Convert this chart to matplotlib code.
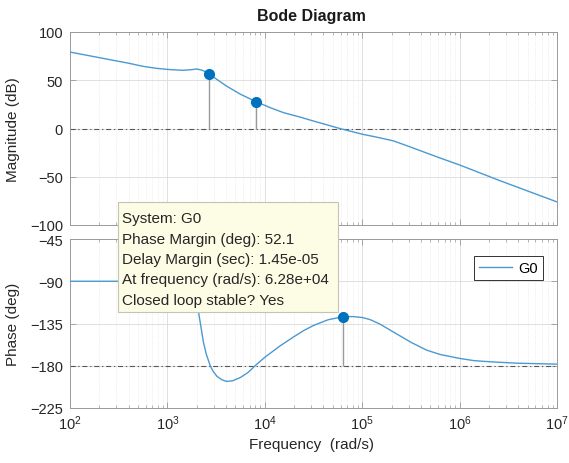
import matplotlib
matplotlib.use('Agg')
import matplotlib.pyplot as plt
from matplotlib.patches import Rectangle
from matplotlib.ticker import LogLocator, NullFormatter

plt.rcParams['font.family'] = ['Liberation Sans', 'DejaVu Sans']

# magnitude curve (rad/s, dB)
mag_freq = [100, 158, 257, 398, 562, 794, 1072, 1445, 1778, 1995, 2291, 2692,
            3311, 4074, 5623, 8128, 11220, 15490, 22910, 28840, 41690, 58880,
            1e5, 1.413e5, 2.089e5, 3.02e5, 4.467e5, 6.31e5, 1e6, 2.57e6, 1e7]
mag_db = [79.2, 75.4, 71.3, 67.7, 64.4, 62.2, 61.0, 60.3, 61.0, 61.7, 60.3, 56.6,
          50.0, 43.8, 35.5, 27.8, 21.8, 16.5, 11.9, 8.9, 4.3, 0.0,
          -5.9, -9.0, -12.8, -18.6, -25.0, -30.6, -37.8, -53.9, -76.1]

# phase curve (rad/s, deg)
phase_freq = [100, 316, 794, 1259, 1585, 1862, 2089, 2344, 2512, 2754, 2951, 3236,
              3631, 4074, 4677, 5623, 6761, 7943, 10000, 14450, 19950, 25120,
              31620, 44670, 62800, 79430, 1e5, 1.202e5, 1.514e5, 1.905e5,
              2.455e5, 3.162e5, 4.571e5, 6.31e5, 1e6, 1.413e6, 2.239e6,
              3.981e6, 1e7]
phase_deg = [-90, -90, -89, -86, -88, -103, -123, -155, -168, -180, -186, -191.4,
             -195, -196.7, -196, -192.5, -187, -180, -171, -158.6, -149, -142.5,
             -137.1, -131, -127.9, -127.6, -128.6, -130.8, -135.5, -141.6,
             -148.3, -155.0, -163.3, -168.0, -172.2, -174.6, -176.0,
             -177.3, -178.3]

# marked points
mag_mark_freq = [2692, 8128]
mag_mark_db = [56.6, 27.8]
pm_freq = [6.28e4]
pm_deg = [-127.9]

info_lines = ['System: G0',
              'Phase Margin (deg): 52.1',
              'Delay Margin (sec): 1.45e-05',
              'At frequency (rad/s): 6.28e+04',
              'Closed loop stable? Yes']

W, H = 569, 464
fig = plt.figure(figsize=(W / 100, H / 100), dpi=100)
ax1 = fig.add_axes([70 / W, 1 - 226 / H, 487 / W, 193 / H])
ax2 = fig.add_axes([70 / W, 1 - 409 / H, 487 / W, 169 / H])

line_c = '#4a9ad0'
mark_c = '#0072BD'
spine_c = '#9a9a9a'
text_c = '#262626'
dashdot = (0, (4.5, 2.5, 1.2, 2.5))

for ax in (ax1, ax2):
    ax.set_xscale('log')
    ax.set_xlim(1e2, 1e7)
    ax.xaxis.set_major_locator(LogLocator(base=10, numticks=10))
    ax.xaxis.set_minor_locator(LogLocator(base=10, subs=range(2, 10), numticks=10))
    ax.xaxis.set_minor_formatter(NullFormatter())
    ax.tick_params(which='both', direction='in', top=True, right=True,
                   color=spine_c, labelcolor=text_c, labelsize=10.5)
    ax.tick_params(which='major', length=4, width=0.6)
    ax.tick_params(which='minor', length=2.5, width=0.5)
    ax.tick_params(axis='y', pad=5)
    ax.tick_params(axis='x', pad=4)
    ax.grid(True, which='major', color='#dadada', lw=0.6, ls='-')
    ax.grid(True, which='minor', axis='x', color='#e2e2e2', lw=0.5, ls=':')
    ax.set_axisbelow(True)
    for s in ax.spines.values():
        s.set_color(spine_c)
        s.set_linewidth(0.7)

# magnitude
ax1.axhline(0, color='#555555', lw=0.8, ls=dashdot, zorder=2)
ax1.vlines(mag_mark_freq, 0, mag_mark_db, color='#9a9a9a', lw=1.0, zorder=3)
ax1.plot(mag_freq, mag_db, color=line_c, lw=1.0, zorder=4)
ax1.plot(mag_mark_freq, mag_mark_db, 'o', ms=7, color=mark_c, zorder=5)
ax1.set_ylim(-100, 100)
ax1.set_yticks([-100, -50, 0, 50, 100])
ax1.tick_params(axis='x', labelbottom=False)
ax1.set_ylabel('Magnitude (dB)', fontsize=11, color=text_c)
ax1.yaxis.set_label_coords(-50 / 487, 0.5)

# phase
ax2.axhline(-180, color='#555555', lw=0.8, ls=dashdot, zorder=2)
ax2.vlines(pm_freq, -180, pm_deg, color='#9a9a9a', lw=1.0, zorder=3)
ax2.plot(phase_freq, phase_deg, color=line_c, lw=1.0, zorder=4, label='G0')
ax2.plot(pm_freq, pm_deg, 'o', ms=7, color=mark_c, zorder=5)
ax2.set_ylim(-225, -45)
ax2.set_yticks([-225, -180, -135, -90, -45])
ax2.set_ylabel('Phase (deg)', fontsize=11, color=text_c)
ax2.yaxis.set_label_coords(-50 / 487, 0.5)
ax2.set_xlabel('Frequency  (rad/s)', fontsize=11, color=text_c)
ax2.xaxis.set_label_coords(0.495, -36 / 169)
ax2.xaxis.label.set_verticalalignment('center')

leg = ax2.legend(loc='upper right', bbox_to_anchor=(1 - 14 / 487, 1 - 17 / 169),
                 borderaxespad=0, fancybox=False, framealpha=1, edgecolor='#333333',
                 fontsize=10.5, handlelength=2.3, borderpad=0.35, handletextpad=0.4)
leg.get_frame().set_linewidth(0.7)

fig.text(311 / W, 1 - 16 / H, 'Bode Diagram', ha='center', va='center',
         fontsize=11.5, fontweight='bold', color='#1a1a1a')

# data tip box
fig.add_artist(Rectangle((118 / W, 1 - 313 / H), 220 / W, 110 / H,
                         transform=fig.transFigure, facecolor='#fdfde6',
                         edgecolor='#c4c4b4', lw=0.8, zorder=10))
baselines = [223, 244, 264.3, 284.5, 305]
for txt, yb in zip(info_lines, baselines):
    fig.text(122.5 / W, 1 - yb / H, txt, ha='left', va='baseline', fontsize=11,
             color=text_c, zorder=11)

fig.savefig('out.png', dpi=100)
